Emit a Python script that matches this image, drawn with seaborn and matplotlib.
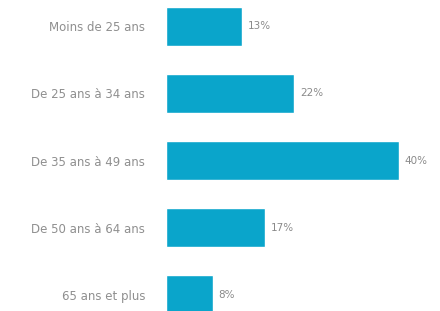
import pandas as pd
import matplotlib.pyplot as plt
import seaborn as sns

# Data

categories = [
    'Moins de 25 ans',
    'De 25 ans à 34 ans',
    'De 35 ans à 49 ans',
    'De 50 ans à 64 ans',
    '65 ans et plus'
]
values = [13, 22, 40, 17, 8]

df = pd.DataFrame({'tranche': categories, 'part': values})

sns.set_style('white')
plt.rcParams['font.family'] = ['DejaVu Sans']

fig = plt.figure(figsize=(4.4, 3.11), dpi=100)
ax = fig.add_axes([166 / 440, 0, 262 / 440, 1])

sns.barplot(data=df, x='part', y='tranche', orient='h',
            color='#0aa5cb', saturation=1, width=0.58, ax=ax)

ax.set_xlim(0, 45)
ax.set_ylim(4.238, -0.387)

for i, v in enumerate(values):
    ax.text(v + 1.0, i, f"{v}%", va='center', ha='left',
            fontsize=7.5, color='#8a8a8a')

ax.set_xlabel('')
ax.set_ylabel('')
ax.set_xticks([])
ax.tick_params(axis='y', length=0, pad=15, labelsize=8.5, labelcolor='#8f8f8f')
sns.despine(ax=ax, left=True, bottom=True)

fig.savefig('out.png', dpi=100)
